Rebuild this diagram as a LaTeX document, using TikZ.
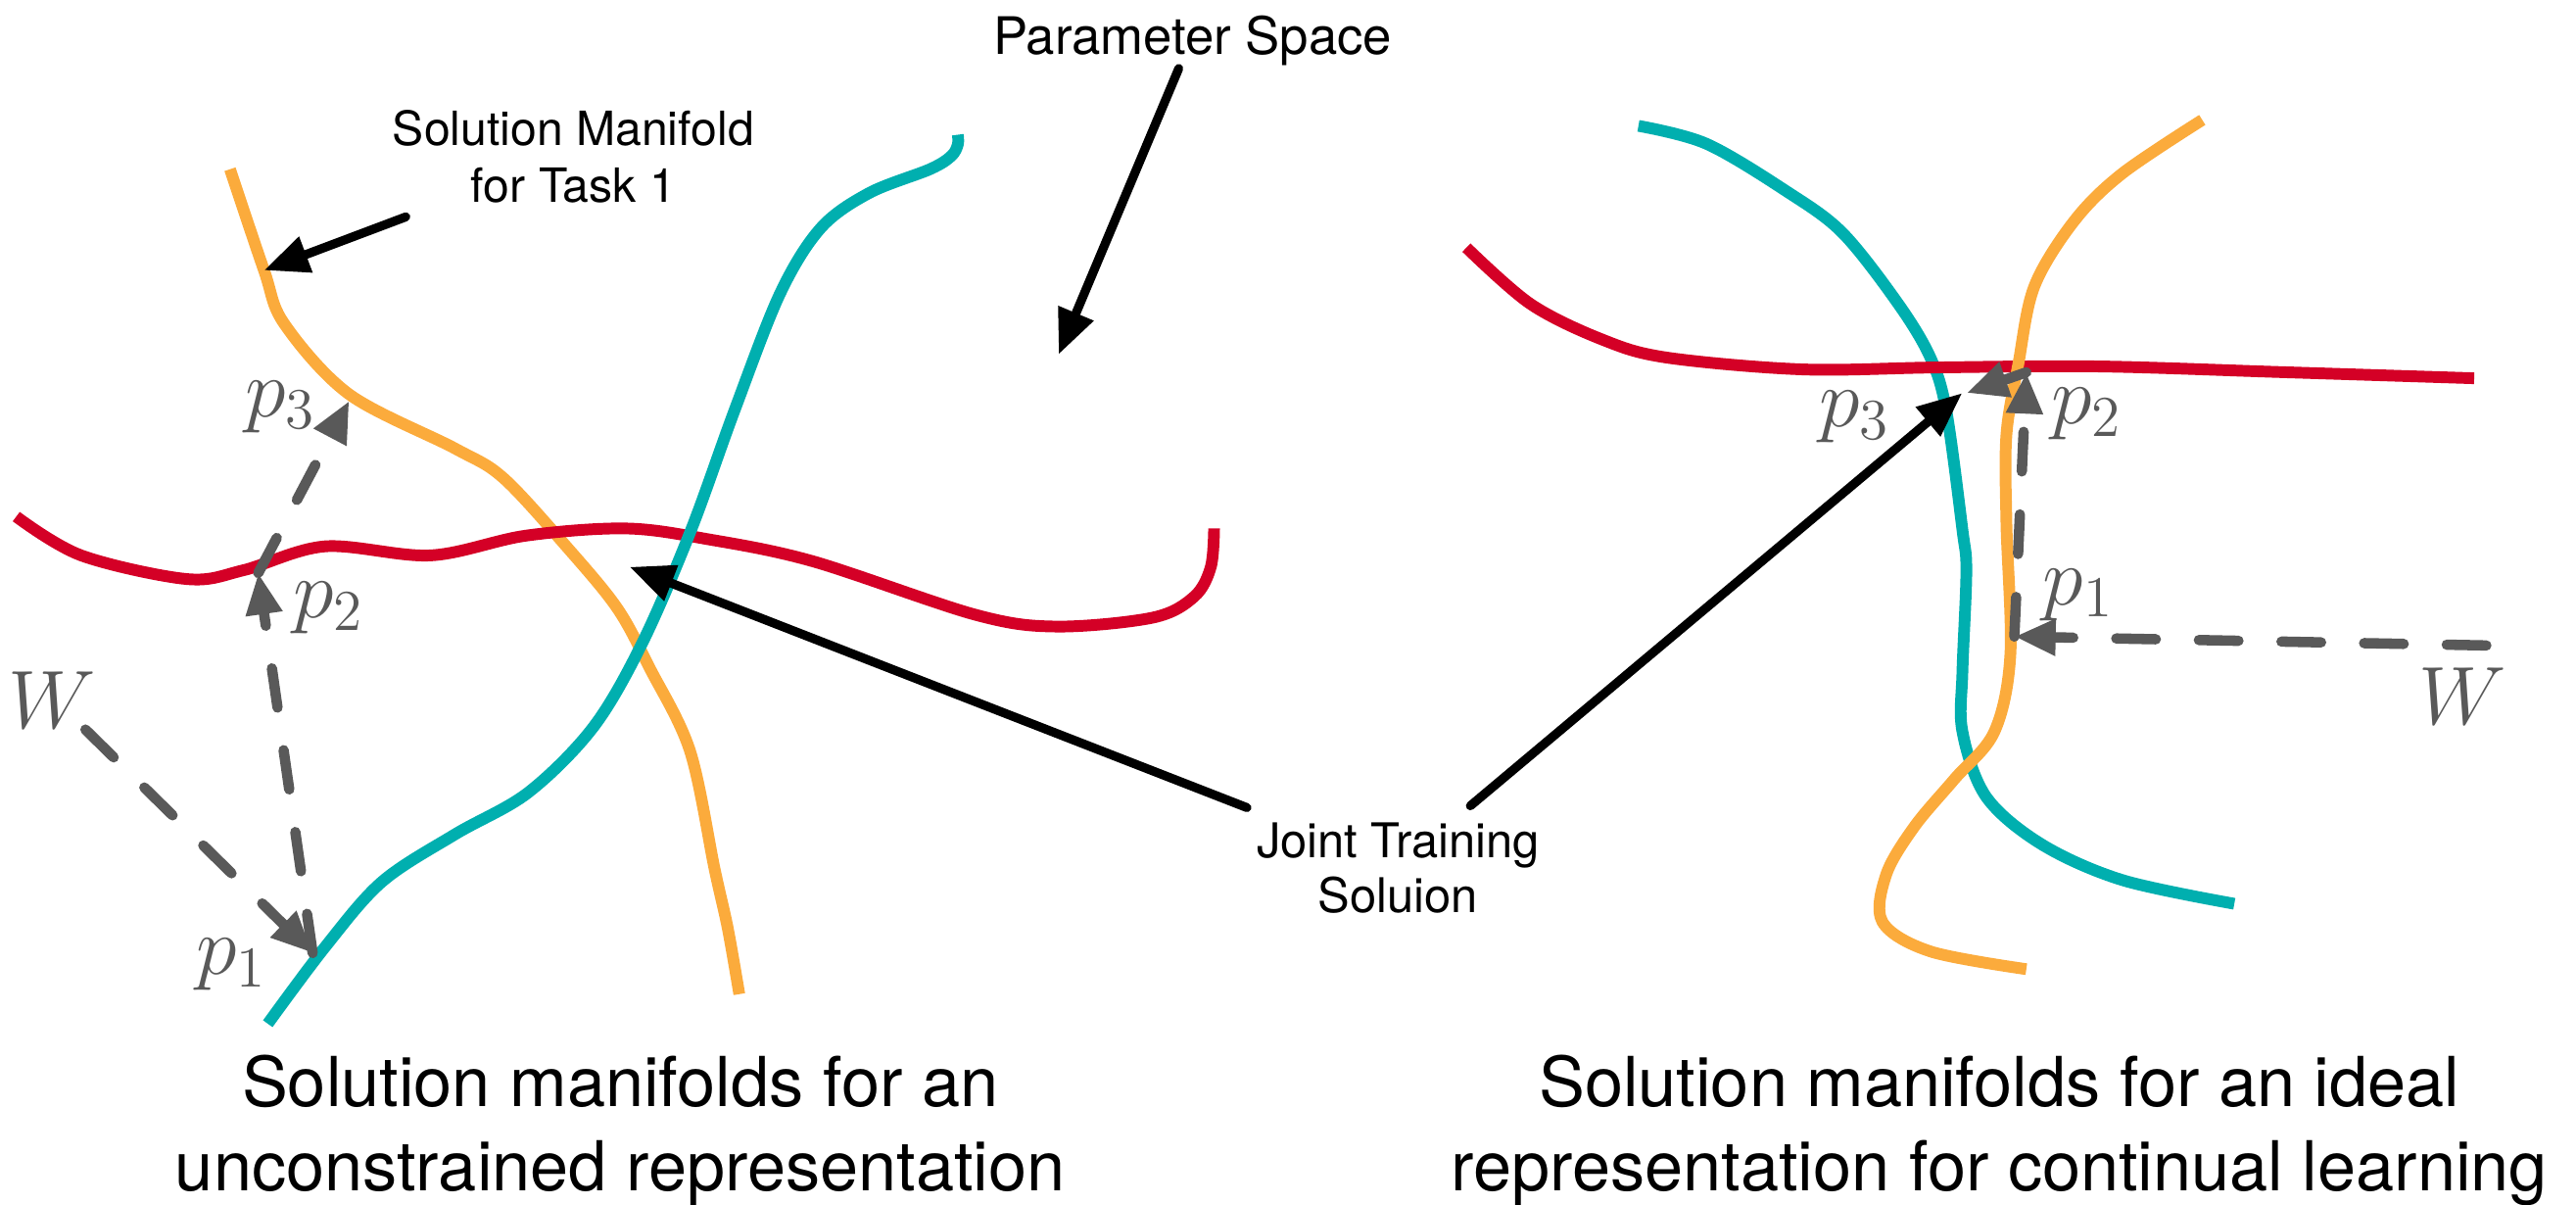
\RequirePackage{fix-cm}
\documentclass[tikz,border=0pt]{standalone}
\usepackage{fontspec}
\setsansfont{TeX Gyre Heros}
\usetikzlibrary{arrows.meta}

\definecolor{mforange}{HTML}{FBAB3C}
\definecolor{mfteal}{HTML}{00AFAF}
\definecolor{mfred}{HTML}{D40026}
\definecolor{stepgray}{HTML}{595959}

\tikzset{
  manifold/.style={line width=3.4pt, line join=round},
  callout/.style={line width=2.6pt, line cap=round, -{Triangle[length=13pt,width=10.5pt]}},
  update/.style={stepgray, line width=3pt, line cap=round, dash pattern=on 11.5pt off 12.5pt,
                 -{Triangle[length=12pt,width=10pt]}},
  note/.style={font=\sffamily\fontsize{13.7}{16.5}\selectfont, align=center, inner sep=0pt},
  bignote/.style={font=\sffamily\fontsize{15}{18}\selectfont, inner sep=0pt},
  caption/.style={font=\sffamily\fontsize{20}{24.4}\selectfont, align=center, inner sep=0pt},
  mathlabel/.style={text=stepgray, font=\fontsize{24}{28}\selectfont, inner sep=0pt},
}

\begin{document}
\begin{tikzpicture}[x=0.1677mm, y=-0.1677mm]
\useasboundingbox (0,0) rectangle (1568,733.2);

% ---------- left panel: unconstrained representation ----------
\draw[manifold, mforange] plot[smooth, tension=0.55] coordinates {
  (140,103) (160.7,164.5) (173,197) (212.6,240) (276.9,272.9) (306.5,291)
  (346,334) (375.8,370.3) (395.5,406.6) (420,457) (435,529) (443,565) (450,605)};
\draw[manifold, mfred] plot[smooth, tension=0.55] coordinates {
  (9.9,314.4) (49.4,338) (113.7,352.4) (148.3,347) (197.8,332.5) (262,338)
  (320,326) (380.7,321.6) (430,328) (494.5,341.5) (593.3,374) (642.8,381.3)
  (702,375.8) (727,363) (737,345) (739,321.6)};
\draw[manifold, mfteal] plot[smooth, tension=0.55] coordinates {
  (163,623) (197.8,576.4) (232.4,536.7) (276.9,507.8) (321.4,482.4) (361,442.7)
  (390.6,392) (420.3,323.4) (447,250) (474.7,178.9) (499.4,139) (529,117.5)
  (566,103) (579,95) (583,88) (583,82)};

% points reached by the successive updates
\coordinate (Lw)  at (52,444);
\coordinate (Lp1) at (190.3,580);
\coordinate (Lp2) at (157.2,348.7);
\coordinate (Lp3) at (212.6,243.9);

\node[mathlabel] (LW)   at (32,426)    {$W$};
\node[mathlabel] (Lp1l) at (140.8,587) {$p_1$};
\node[mathlabel] (Lp2l) at (200,370)   {$p_2$};
\node[mathlabel] (Lp3l) at (170.6,247.5) {$p_3$};

\draw[update] (Lw) -- (Lp1);
\draw[update] (Lp1) -- (Lp2);
\draw[update] (Lp2) -- (Lp3);

% ---------- right panel: ideal representation ----------
\draw[manifold, mfteal] plot[smooth, tension=0.55] coordinates {
  (997.3,76.6) (1038.7,87.5) (1087.4,116.4) (1121.5,141.7) (1155.5,185)
  (1175,217.6) (1184.7,250) (1194.5,322.4) (1196.9,347.7) (1194.5,409)
  (1194.5,445.2) (1209,485) (1243,514) (1291.9,535.6) (1360,550)};
\draw[manifold, mfred] plot[smooth, tension=0.55] coordinates {
  (892.6,150.7) (931.6,185) (975.4,206.7) (1014.4,217.6) (1097.1,224.8)
  (1180,223.6) (1277.3,223) (1390,226.5) (1506,230.2)};
\draw[manifold, mforange] plot[smooth, tension=0.55] coordinates {
  (1340.5,73) (1291.9,105.5) (1262.6,134.4) (1238.3,174.2) (1228.6,221.2)
  (1221.3,264.5) (1221.3,318.8) (1223.7,398.2) (1214,445.2) (1189.6,474.2)
  (1165.3,503) (1148.2,532) (1145.8,561) (1175,579) (1233.4,589.8)};

\coordinate (Rw)  at (1513.4,392.8);
\coordinate (Rp1) at (1226.1,387.4);
\coordinate (Rp2) at (1233.4,226.6);
\coordinate (Rp3) at (1197,239.2);

\node[mathlabel] (RW)   at (1498.8,423.6) {$W$};
\node[mathlabel] (Rp1l) at (1265,362)     {$p_1$};
\node[mathlabel] (Rp2l) at (1270,252)     {$p_2$};
\node[mathlabel] (Rp3l) at (1128.8,253.7) {$p_3$};

\draw[update] (Rw) -- (Rp1);
\draw[update] (Rp1) -- (Rp2);
\draw[update] (Rp2) -- (Rp3);

% ---------- annotations ----------
\node[note] (task1) at (349,95.4) {Solution Manifold\\for Task 1};
\coordinate (task1from) at (247,132);
\coordinate (task1to)   at (160.7,164.5);
\draw[callout] (task1from) -- (task1to);

\node[bignote, anchor=base] (space) at (726,32.8) {Parameter Space};
\coordinate (spacefrom) at (717.5,41.7);
\coordinate (spaceto)   at (644.4,215.7);
\draw[callout] (spacefrom) -- (spaceto);

\node[note, font=\sffamily\fontsize{13.9}{16.1}\selectfont] (joint) at (851,528.2) {Joint Training\\Soluion};
\coordinate (jointL)   at (759,491.5);
\coordinate (jointLto) at (383.2,345);
\coordinate (jointR)   at (895,490.4);
\coordinate (jointRto) at (1194.4,239.2);
\draw[callout] (jointL) -- (jointLto);
\draw[callout] (jointR) -- (jointRto);

% ---------- captions ----------
\node[caption] (capL) at (377.5,688) {Solution manifolds for an\\unconstrained representation};
\node[caption] (capR) at (1217,688) {Solution manifolds for an ideal\\representation for continual learning};

\end{tikzpicture}
\end{document}
